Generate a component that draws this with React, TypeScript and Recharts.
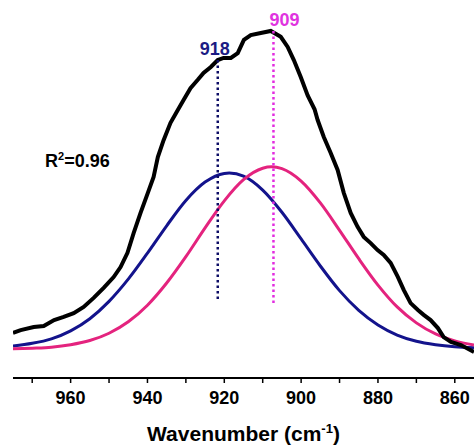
import React from 'react';
import { LineChart, Line, XAxis, YAxis, ReferenceLine, ReferenceDot } from 'recharts';

// measured spectrum (wavenumber, intensity a.u.)
const measured = [
  { w: 975, v: 13.0 }, { w: 973, v: 13.8 }, { w: 969.6, v: 14.7 }, { w: 967, v: 15.0 },
  { w: 964.3, v: 16.7 }, { w: 961.8, v: 17.6 }, { w: 959.2, v: 18.7 }, { w: 956.6, v: 20.5 },
  { w: 954, v: 23.1 }, { w: 951.4, v: 26.0 }, { w: 948.8, v: 29.1 }, { w: 947, v: 32.0 },
  { w: 945.2, v: 36.1 }, { w: 943.6, v: 41.8 }, { w: 941.8, v: 47.6 }, { w: 939.9, v: 53.4 },
  { w: 938.4, v: 58.0 }, { w: 937.3, v: 63.7 }, { w: 935.8, v: 68.6 }, { w: 934, v: 73.6 },
  { w: 932.1, v: 77.3 }, { w: 930.6, v: 80.2 }, { w: 928.8, v: 83.6 }, { w: 926.9, v: 86.0 },
  { w: 925.4, v: 88.0 }, { w: 923.5, v: 89.7 }, { w: 921.7, v: 91.7 }, { w: 920.2, v: 92.3 },
  { w: 918.3, v: 92.3 }, { w: 916.5, v: 93.7 }, { w: 914.9, v: 97.5 }, { w: 913.1, v: 98.9 },
  { w: 910.5, v: 99.5 }, { w: 907.9, v: 100.1 }, { w: 905.3, v: 98.4 }, { w: 903.5, v: 95.5 },
  { w: 901.9, v: 91.7 }, { w: 900.1, v: 86.8 }, { w: 898.3, v: 81.5 }, { w: 896.5, v: 77.5 },
  { w: 895.7, v: 74.4 }, { w: 894.1, v: 69.5 }, { w: 892.3, v: 64.9 }, { w: 890.5, v: 60.0 },
  { w: 888.9, v: 53.4 }, { w: 887.1, v: 47.6 }, { w: 885.3, v: 43.6 }, { w: 883.7, v: 40.7 },
  { w: 881.9, v: 38.9 }, { w: 880.1, v: 36.9 }, { w: 878.5, v: 35.5 }, { w: 876.7, v: 33.2 },
  { w: 874.8, v: 29.1 }, { w: 873.3, v: 25.4 }, { w: 871.5, v: 21.6 }, { w: 869.6, v: 19.6 },
  { w: 868.1, v: 18.2 }, { w: 866.3, v: 16.7 }, { w: 864.4, v: 14.4 }, { w: 862.9, v: 11.8 },
  { w: 861, v: 10.4 }, { w: 858.4, v: 9.5 }, { w: 855, v: 7.5 },
];

// fitted component near 918
const fit918 = [
  { w: 975, v: 9.2 }, { w: 970, v: 10.0 }, { w: 965, v: 11.3 }, { w: 960, v: 13.6 },
  { w: 955, v: 17.1 }, { w: 950, v: 22.1 }, { w: 945, v: 28.5 }, { w: 940, v: 36.0 },
  { w: 935, v: 43.9 }, { w: 930, v: 51.2 }, { w: 925, v: 56.5 }, { w: 920, v: 59.0 },
  { w: 918.7, v: 59.1 }, { w: 915, v: 58.2 }, { w: 910, v: 54.2 }, { w: 905, v: 47.8 },
  { w: 900, v: 40.1 }, { w: 895, v: 32.3 }, { w: 890, v: 25.2 }, { w: 885, v: 19.5 },
  { w: 880, v: 15.3 }, { w: 875, v: 12.4 }, { w: 870, v: 10.6 }, { w: 865, v: 9.6 },
  { w: 860, v: 9.0 }, { w: 855, v: 8.7 },
];

// fitted component near 909
const fit909 = [
  { w: 975, v: 8.4 }, { w: 970, v: 8.6 }, { w: 965, v: 8.9 }, { w: 960, v: 9.6 },
  { w: 955, v: 10.8 }, { w: 950, v: 12.9 }, { w: 945, v: 16.2 }, { w: 940, v: 21.0 },
  { w: 935, v: 27.4 }, { w: 930, v: 35.0 }, { w: 925, v: 43.3 }, { w: 920, v: 51.1 },
  { w: 915, v: 57.2 }, { w: 910, v: 60.5 }, { w: 907.7, v: 60.9 }, { w: 905, v: 60.4 },
  { w: 900, v: 56.8 }, { w: 895, v: 50.5 }, { w: 890, v: 42.6 }, { w: 885, v: 34.4 },
  { w: 880, v: 26.8 }, { w: 875, v: 20.5 }, { w: 870, v: 15.9 }, { w: 865, v: 12.7 },
  { w: 860, v: 10.7 }, { w: 855, v: 9.5 },
];

const xTicks = [970, 960, 950, 940, 930, 920, 910, 900, 890, 880, 870, 860];

// peak markers: [x, top, bottom]
const peak918 = { x: 921.7, top: 91.7, bottom: 21.9, label: '918' };
const peak909 = { x: 907.2, top: 100.1, bottom: 20.8, label: '909' };

const font = '"Liberation Sans", Arial, sans-serif';

const AxisTitle = (props: any) => {
  const vb = props.viewBox;
  const cx = vb.x + vb.width / 2;
  return (
    <text x={cx} y={vb.y + 63} textAnchor="middle" fontFamily={font} fontWeight="bold" fontSize={21} fill="#000">
      Wavenumber (cm
      <tspan dy={-8} fontSize={13}>-1</tspan>
      <tspan dy={8}>)</tspan>
    </text>
  );
};

export default function App() {
  return (
    <div style={{ position: 'absolute', left: 0, top: 0, width: 474, height: 445, background: '#fff' }}>
      <LineChart width={474} height={445} margin={{ top: 7, right: 0, left: 13, bottom: 0 }}>
        <XAxis
          dataKey="w"
          type="number"
          domain={[855, 975]}
          reversed
          allowDataOverflow
          ticks={xTicks}
          interval={0}
          tickFormatter={(t: number) => (t % 20 === 0 ? String(t) : '')}
          height={67}
          axisLine={{ stroke: '#000', strokeWidth: 2 }}
          tickLine={{ stroke: '#000', strokeWidth: 1.5 }}
          tickSize={5}
          tickMargin={8}
          tick={{ fill: '#000', fontSize: 18, fontWeight: 'bold', fontFamily: font }}
          label={<AxisTitle />}
        />
        <YAxis hide type="number" domain={[0, 107]} allowDataOverflow />
        <Line data={fit918} dataKey="v" type="monotone" stroke="#13138c" strokeWidth={3} dot={false} isAnimationActive={false} />
        <Line data={fit909} dataKey="v" type="monotone" stroke="#e4237e" strokeWidth={3} dot={false} isAnimationActive={false} />
        <Line data={measured} dataKey="v" type="linear" stroke="#000" strokeWidth={4} dot={false} isAnimationActive={false} />
        <ReferenceLine
          segment={[{ x: peak918.x, y: peak918.top }, { x: peak918.x, y: peak918.bottom }]}
          stroke="#0d0d66"
          strokeWidth={2.5}
          strokeDasharray="2.5 3"
        />
        <ReferenceLine
          segment={[{ x: peak909.x, y: peak909.top }, { x: peak909.x, y: peak909.bottom }]}
          stroke="#e22ce0"
          strokeWidth={2.5}
          strokeDasharray="2.5 3"
        />
        <ReferenceDot
          x={peak918.x}
          y={peak918.top}
          r={0}
          stroke="none"
          label={{ value: peak918.label, position: 'top', fill: '#1b1b84', fontSize: 18, fontWeight: 'bold', fontFamily: font, dx: -3 }}
        />
        <ReferenceDot
          x={peak909.x}
          y={peak909.top}
          r={0}
          stroke="none"
          label={{ value: peak909.label, position: 'top', fill: '#e033e0', fontSize: 18, fontWeight: 'bold', fontFamily: font, dx: 11 }}
        />
      </LineChart>
      <div
        style={{
          position: 'absolute',
          left: 45,
          top: 152,
          fontFamily: font,
          fontWeight: 'bold',
          fontSize: 18,
          lineHeight: '18px',
          color: '#000',
          whiteSpace: 'nowrap',
        }}
      >
        R<span style={{ position: 'relative', top: -7, fontSize: 11 }}>2</span>=0.96
      </div>
    </div>
  );
}
